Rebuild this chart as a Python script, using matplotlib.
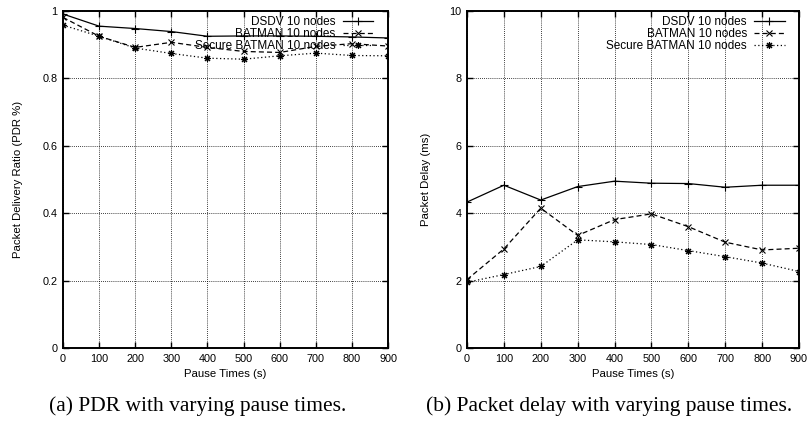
import matplotlib
matplotlib.use("Agg")
import matplotlib.pyplot as plt

pause = [0, 100, 200, 300, 400, 500, 600, 700, 800, 900]
series = ["DSDV 10 nodes", "BATMAN 10 nodes", "Secure BATMAN 10 nodes"]

pdr_dsdv = [0.991, 0.955, 0.948, 0.939, 0.925, 0.926, 0.926, 0.925, 0.923, 0.920]
pdr_batman = [0.981, 0.925, 0.892, 0.907, 0.892, 0.880, 0.877, 0.895, 0.903, 0.896]
pdr_secure = [0.958, 0.925, 0.890, 0.874, 0.860, 0.857, 0.867, 0.875, 0.868, 0.867]

delay_dsdv = [4.33, 4.83, 4.39, 4.79, 4.95, 4.89, 4.88, 4.77, 4.83, 4.83]
delay_batman = [2.03, 2.94, 4.15, 3.34, 3.81, 3.98, 3.60, 3.14, 2.91, 2.96]
delay_secure = [1.95, 2.18, 2.42, 3.21, 3.15, 3.07, 2.89, 2.71, 2.52, 2.27]

pdr_ticks = [0, 0.2, 0.4, 0.6, 0.8, 1]
pdr_ticklabels = ["0", "0.2", "0.4", "0.6", "0.8", "1"]
delay_ticks = [0, 2, 4, 6, 8, 10]
delay_ticklabels = ["0", "2", "4", "6", "8", "10"]

plt.rcParams["font.family"] = ["Liberation Sans", "DejaVu Sans"]

W, H = 808, 422
fig = plt.figure(figsize=(W / 100, H / 100), dpi=100)

asterisk = (8, 2, 0)
styles = [
    dict(linestyle="-", marker="+", markersize=6),
    dict(linestyle=(0, (4, 2.5)), marker="x", markersize=5),
    dict(linestyle=(0, (1, 2)), marker=asterisk, markersize=5),
]


def make(ax, ys, ylim, yt, ytl, ylabel, ylab_x, leg_x):
    for y, name, st in zip(ys, series, styles):
        ax.plot(pause, y, color="black", linewidth=0.9, label=name,
                markeredgewidth=0.8, **st)
    ax.set_xlim(0, 900)
    ax.set_ylim(*ylim)
    ax.set_xticks(pause)
    ax.set_xticklabels([str(p) for p in pause])
    ax.set_yticks(yt)
    ax.set_yticklabels(ytl)
    ax.grid(True, color="black", linestyle=(0, (1, 1.5)), linewidth=0.6)
    ax.tick_params(direction="in", length=4, width=1, top=True, right=True,
                   labelsize=7.8, pad=4)
    for s in ax.spines.values():
        s.set_linewidth(1.4)
    ax.set_xlabel("Pause Times (s)", fontsize=8.2, labelpad=4)
    ax.set_ylabel(ylabel, fontsize=8.2)
    ax.yaxis.set_label_coords(ylab_x, 0.5)
    leg = ax.legend(loc="upper right", bbox_to_anchor=(leg_x, 0.986),
                    frameon=False, markerfirst=False, numpoints=1,
                    fontsize=8.5, handlelength=2.6, handletextpad=0.6,
                    labelspacing=0.0, borderaxespad=0.0, borderpad=0.0)
    for t in leg.get_texts():
        t.set_ha("right")


ax1 = fig.add_axes([63 / W, 74 / H, 325 / W, 337 / H])
make(ax1, [pdr_dsdv, pdr_batman, pdr_secure], (0, 1), pdr_ticks, pdr_ticklabels,
     "Packet Delivery Ratio (PDR %)", -0.123, 0.955)
ax2 = fig.add_axes([467 / W, 74 / H, 332 / W, 337 / H])
make(ax2, [delay_dsdv, delay_batman, delay_secure], (0, 10), delay_ticks,
     delay_ticklabels, "Packet Delay (ms)", -0.1085, 0.957)

fig.text(198 / W, 1 - 406 / H, "(a) PDR with varying pause times.",
         family="Liberation Serif", fontsize=15.5, ha="center", va="center")
fig.text(609 / W, 1 - 406 / H, "(b) Packet delay with varying pause times.",
         family="Liberation Serif", fontsize=15.5, ha="center", va="center")

fig.savefig("out.png", dpi=100)
